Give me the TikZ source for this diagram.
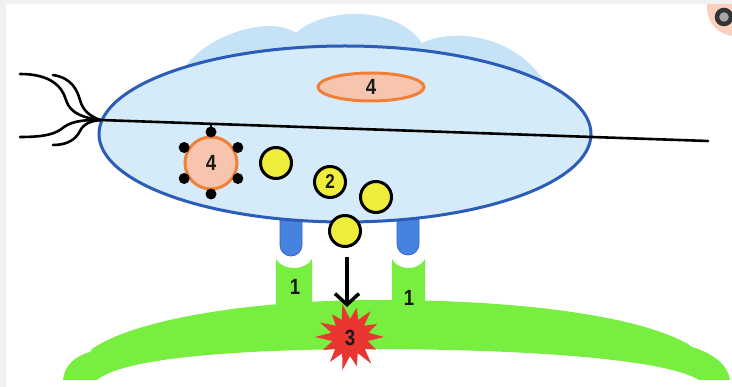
\documentclass[tikz,border=0pt]{standalone}
\usepackage{fontspec}
\setmainfont{Liberation Sans}
\usetikzlibrary{calc,arrows.meta,shapes.geometric}

\definecolor{cloudblue}{HTML}{C5E2F7}
\definecolor{cellfill}{HTML}{D5EBFA}
\definecolor{cellline}{HTML}{2A5CB8}
\definecolor{peach}{HTML}{F7C5AE}
\definecolor{orangeline}{HTML}{F08038}
\definecolor{vesicle}{HTML}{EDED3A}
\definecolor{musclegreen}{HTML}{77EE40}
\definecolor{burst}{HTML}{EA3530}
\definecolor{knob}{HTML}{4682E0}
\definecolor{knobline}{HTML}{3468C8}
\definecolor{frame}{HTML}{F1F1F1}

\tikzset{
  numtext/.style={font=\bfseries\fontsize{22}{22}\selectfont, text=black!90, xscale=0.85},
  vesiclenode/.style={circle, draw=black, line width=3pt, fill=vesicle,
                      minimum size=31pt, inner sep=0pt},
  fiber/.style={draw=black, line width=2.6pt, line cap=round},
  dotnode/.style={circle, fill=black, minimum size=11pt, inner sep=0pt},
}

\begin{document}
\begin{tikzpicture}[x=1pt, y=-1pt]
\useasboundingbox (0,0) rectangle (732,387);
\fill[white] (0,0) rectangle (732,387);

% corner badge
\fill[peach!80] (735,8) circle[radius=28pt];
\draw[black!80, line width=4.5pt, fill=black!35] (724,17) circle[radius=7pt];

% frame strips
\fill[frame] (0,0) rectangle (732,4);
\fill[frame] (0,0) rectangle (6,387);

% cloud behind the cell
\fill[cloudblue] (178,82) .. controls (188,42) and (265,12) .. (296,33)
  .. controls (322,8) and (395,4) .. (422,43)
  .. controls (462,24) and (532,42) .. (552,98) -- (360,130) -- cycle;

% terminal knobs
\draw[knobline, fill=knob, line width=0.8pt]
  (280,212) -- (280,245) arc[start angle=180, end angle=360, radius=11pt] -- (302,212) -- cycle;
\draw[knobline, fill=knob, line width=0.8pt]
  (397,212) -- (397,244) arc[start angle=180, end angle=360, radius=11pt] -- (419,212) -- cycle;

% cell body
\draw[cellline, fill=cellfill, line width=3pt] (345,134) ellipse[x radius=246pt, y radius=88pt];

% axon line and branching fibres
\coordinate (junction) at (100,120);
\coordinate (axonend) at (708,141);
\coordinate (fa) at (20,74);
\coordinate (fb) at (53,75);
\coordinate (fc) at (20,137);
\coordinate (fd) at (53,145);
\draw[fiber] (junction) -- (axonend);
\draw[fiber] (fa) .. controls (50,74) and (62,86) .. (66,100) .. controls (70,114) and (85,118) .. (junction);
\draw[fiber] (fb) .. controls (72,78) and (77,90) .. (80,100) .. controls (83,111) and (90,116) .. (junction);
\draw[fiber] (fc) .. controls (45,137) and (56,134) .. (64,127) .. controls (74,120) and (88,120) .. (junction);
\draw[fiber] (fd) .. controls (68,145) and (76,139) .. (80,131) .. controls (84,123) and (92,121) .. (junction);

% nucleus
\node[ellipse, draw=orangeline, fill=peach, line width=3pt, minimum width=106pt,
      minimum height=28pt, inner sep=0pt] (nucleus) at (371,87) {};
\node[numtext] at (nucleus.center) {4};

% round body with attached dots
\node[circle, draw=orangeline, fill=peach, line width=3pt, minimum size=52pt,
      inner sep=0pt] (body) at (211,163) {};
\node[numtext] at (body.center) {4};
\draw[black, line width=2.5pt] (211,124) -- (211,130);
\foreach \ang [count=\i] in {90,30,-30,-90,-150,150}
  \node[dotnode] (dot\i) at ($(body.center)+(\ang:31pt)$) {};

% vesicles
\node[vesiclenode] (v1) at (276,163) {};
\node[vesiclenode] (v2) at (330,182) {};
\node[numtext, font=\bfseries\fontsize{20}{20}\selectfont] at (v2.center) {2};
\node[vesiclenode] (v3) at (376,197) {};
\node[vesiclenode] (v4) at (345,231) {};

% muscle membrane with receptors
\fill[musclegreen] (63,380) .. controls (64,366) and (75,356) .. (90,352)
  -- (92,349) .. controls (130,322) and (240,300) .. (380,300)
  .. controls (500,300) and (630,312) .. (688,344)
  -- (692,347) .. controls (715,354) and (728,366) .. (730,380)
  -- (699,380) .. controls (670,362) and (560,350) .. (380,349)
  .. controls (220,349) and (120,360) .. (97,380) -- cycle;
\fill[musclegreen] (276,310) -- (276,259) .. controls (282,271) and (306,271) .. (312,259) -- (312,310) -- cycle;
\fill[musclegreen] (392,310) -- (392,259) .. controls (398,271) and (419,271) .. (425,259) -- (425,310) -- cycle;
\node[numtext] (r1) at (295,287) {1};
\node[numtext] (r2) at (409,298) {1};

% excitation burst
\fill[burst, shift={(350,337)}] plot coordinates {
  (0:34pt) (12.9:19pt) (25.7:30pt) (38.6:18pt) (51.4:33pt) (64.3:19pt) (77.1:30pt)
  (90:18pt) (102.9:34pt) (115.7:19pt) (128.6:29pt) (141.4:18pt) (154.3:33pt) (167.1:19pt)
  (180:35pt) (192.9:18pt) (205.7:30pt) (218.6:19pt) (231.4:32pt) (244.3:18pt) (257.1:34pt)
  (270:19pt) (282.9:30pt) (295.7:18pt) (308.6:34pt) (321.4:19pt) (334.3:29pt) (347.1:18pt)
} -- cycle;
\node[numtext] (burstlabel) at (350,338) {3};

% release arrow
\coordinate (arrstart) at (347,257);
\coordinate (arrend) at (347,307);
\draw[line width=3.5pt, -{Straight Barb[length=11pt, width=24pt, line width=3.5pt]}] (arrstart) -- (arrend);
\end{tikzpicture}
\end{document}
